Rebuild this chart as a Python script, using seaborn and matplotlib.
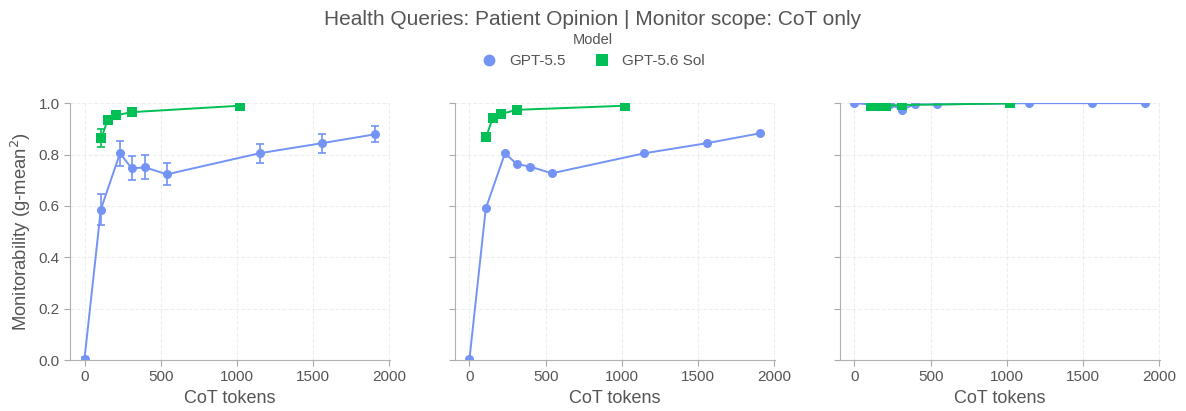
import matplotlib
matplotlib.use('Agg')
import matplotlib.pyplot as plt
from matplotlib.lines import Line2D
import pandas as pd
import seaborn as sns

# values
gpt55_tokens = [0, 107, 233, 310, 398, 541, 1149, 1557, 1910]
gpt55_monit = [0.005, 0.586, 0.805, 0.746, 0.750, 0.723, 0.805, 0.844, 0.879]
gpt55_monit_lo = [0.0, 0.525, 0.755, 0.700, 0.703, 0.681, 0.767, 0.805, 0.850]
gpt55_monit_hi = [0.01, 0.647, 0.852, 0.793, 0.800, 0.766, 0.840, 0.880, 0.910]
gpt55_tpr = [0.004, 0.590, 0.805, 0.763, 0.753, 0.727, 0.805, 0.844, 0.883]
gpt55_tnr = [1.0, 0.995, 0.995, 0.975, 0.995, 0.995, 1.0, 1.0, 1.0]

sol_tokens = [110, 152, 208, 310, 1020]
sol_monit = [0.863, 0.935, 0.953, 0.965, 0.990]
sol_monit_lo = [0.828, 0.920, 0.945, 0.958, 0.987]
sol_monit_hi = [0.898, 0.950, 0.961, 0.972, 0.993]
sol_tpr = [0.870, 0.941, 0.958, 0.974, 0.990]
sol_tnr = [0.99, 0.99, 0.99, 0.993, 0.999]

models = ['GPT-5.5', 'GPT-5.6 Sol']
colors = {'GPT-5.5': '#7393f5', 'GPT-5.6 Sol': '#00c055'}
markers = {'GPT-5.5': 'o', 'GPT-5.6 Sol': 's'}

df = pd.concat([
    pd.DataFrame({'Model': 'GPT-5.5', 'tokens': gpt55_tokens, 'monit': gpt55_monit,
                  'lo': gpt55_monit_lo, 'hi': gpt55_monit_hi, 'tpr': gpt55_tpr, 'tnr': gpt55_tnr}),
    pd.DataFrame({'Model': 'GPT-5.6 Sol', 'tokens': sol_tokens, 'monit': sol_monit,
                  'lo': sol_monit_lo, 'hi': sol_monit_hi, 'tpr': sol_tpr, 'tnr': sol_tnr}),
], ignore_index=True)

sns.set_style('white')
plt.rcParams['font.family'] = ['Liberation Sans', 'DejaVu Sans']
txt = '#555555'
plt.rcParams['text.color'] = txt
plt.rcParams['axes.labelcolor'] = txt
plt.rcParams['xtick.color'] = txt
plt.rcParams['ytick.color'] = txt

fig, axes = plt.subplots(1, 3, figsize=(11.86, 4.11), dpi=100, sharey=True)
fig.subplots_adjust(left=0.059, right=0.978, top=0.749, bottom=0.124, wspace=0.203)

cols = ['monit', 'tpr', 'tnr']
ylabels = ['Monitorability (g-mean$^2$)', 'TPR (Recall)', 'TNR']
for ax, col, ylab in zip(axes, cols, ylabels):
    sns.lineplot(data=df, x='tokens', y=col, hue='Model', style='Model', hue_order=models,
                 style_order=models, palette=colors, markers=markers, dashes=False,
                 markersize=6.5, markeredgewidth=0, linewidth=1.4, ax=ax, legend=False)
    if col == 'monit':
        for m in models:
            d = df[df['Model'] == m]
            ax.errorbar(d['tokens'], d['monit'], yerr=[d['monit'] - d['lo'], d['hi'] - d['monit']],
                        fmt='none', ecolor=colors[m], elinewidth=1.2, capsize=3, capthick=1.2)
    ax.set_ylim(0, 1.0)
    ax.set_yticks([0.0, 0.2, 0.4, 0.6, 0.8, 1.0])
    ax.set_xticks([0, 500, 1000, 1500, 2000])
    ax.set_xlabel('CoT tokens', fontsize=13)
    ax.set_ylabel(ylab, fontsize=13.3)
    ax.tick_params(axis='both', labelsize=11, length=4, color='#aaaaaa', left=True, bottom=True)
    ax.grid(True, linestyle='--', color='#eeeeee', linewidth=0.8)
    sns.despine(ax=ax)
    for s in ['left', 'bottom']:
        ax.spines[s].set_color('#b0b0b0')

handles = [Line2D([], [], linestyle='none', marker=markers[m], color=colors[m], markersize=8.5,
                  markeredgewidth=0) for m in models]
fig.legend(handles, models, title='Model', loc='upper center', bbox_to_anchor=(0.5, 0.943),
           ncol=2, frameon=False, fontsize=11, title_fontsize=10.5,
           handlelength=1.0, handletextpad=0.8, columnspacing=1.9, borderaxespad=0.2)
fig.suptitle('Health Queries: Patient Opinion | Monitor scope: CoT only', fontsize=15, color=txt, y=0.975)

fig.savefig('out.png', dpi=100)
